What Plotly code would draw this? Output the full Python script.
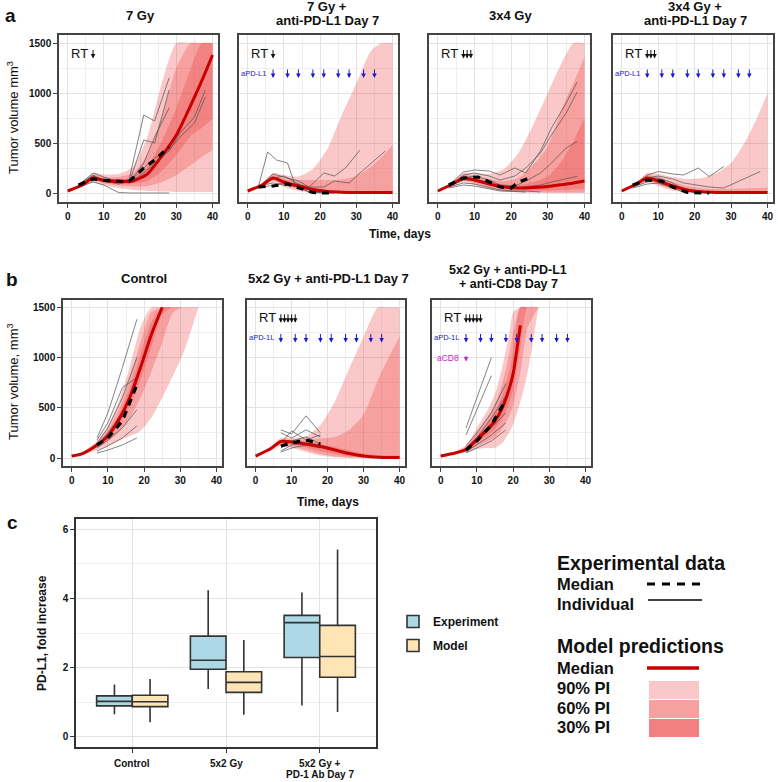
import plotly.graph_objects as go

W, H = 778, 782
FONT = "Liberation Sans, Arial, sans-serif"

# ---------------- data: model prediction bands (days, mm3) ----------------
DAYS = [0, 4, 7, 10, 14, 18, 22, 26, 30, 34, 37, 40]

# a1: 7 Gy
A1_MED = [20, 80, 150, 125, 115, 120, 190, 370, 580, 880, 1120, 1380]
A1_P90_HI = [25, 100, 200, 185, 190, 260, 560, 1100, 1500, 1500, 1500, 1500]
A1_P90_LO = [15, 60, 110, 75, 50, 30, 20, 15, 10, 10, 10, 10]
A1_P60_HI = [23, 90, 180, 160, 160, 200, 380, 760, 1250, 1500, 1500, 1500]
A1_P60_LO = [17, 70, 125, 95, 75, 65, 70, 110, 180, 280, 360, 430]
A1_P30_HI = [21, 85, 165, 140, 135, 150, 260, 520, 850, 1250, 1500, 1500]
A1_P30_LO = [19, 75, 135, 110, 95, 95, 120, 220, 380, 570, 650, 740]

# a2: 7 Gy + anti-PD-L1 Day 7
A2_MED = [20, 80, 150, 110, 70, 35, 15, 8, 5, 5, 5, 5]
A2_P90_HI = [25, 100, 200, 180, 165, 240, 440, 780, 1095, 1420, 1500, 1500]
A2_P90_LO = [15, 60, 110, 60, 20, 5, 0, 0, 0, 0, 0, 0]
A2_P60_HI = [23, 90, 180, 150, 130, 130, 130, 135, 170, 260, 360, 480]
A2_P60_LO = [17, 70, 125, 80, 40, 15, 5, 2, 0, 0, 0, 0]
A2_P30_HI = [21, 85, 165, 130, 95, 55, 30, 20, 15, 15, 15, 15]
A2_P30_LO = [19, 75, 135, 95, 55, 25, 8, 3, 2, 2, 2, 2]

# a3: 3x4 Gy
A3_MED = [20, 90, 150, 130, 90, 60, 50, 55, 65, 85, 100, 120]
A3_P90_HI = [25, 110, 200, 200, 190, 240, 400, 680, 1000, 1320, 1500, 1500]
A3_P90_LO = [15, 65, 110, 80, 40, 15, 5, 2, 0, 0, 0, 0]
A3_P60_HI = [23, 100, 180, 170, 140, 120, 150, 280, 465, 860, 1100, 1360]
A3_P60_LO = [17, 75, 125, 100, 60, 30, 15, 10, 5, 5, 5, 5]
A3_P30_HI = [21, 95, 165, 150, 115, 85, 80, 110, 165, 330, 520, 760]
A3_P30_LO = [19, 85, 135, 115, 75, 45, 30, 25, 25, 30, 35, 40]

# a4: 3x4 Gy + anti-PD-L1 Day 7
A4_MED = [20, 90, 150, 120, 70, 30, 12, 6, 5, 5, 5, 5]
A4_P90_HI = [25, 110, 200, 190, 160, 140, 150, 200, 300, 520, 740, 1000]
A4_P90_LO = [15, 65, 110, 70, 25, 5, 0, 0, 0, 0, 0, 0]
A4_P60_HI = [23, 100, 180, 160, 110, 70, 45, 40, 40, 45, 50, 55]
A4_P60_LO = [17, 75, 125, 85, 40, 12, 3, 1, 0, 0, 0, 0]
A4_P30_HI = [21, 95, 165, 135, 85, 45, 22, 15, 12, 12, 12, 12]
A4_P30_LO = [19, 85, 135, 105, 55, 20, 6, 3, 2, 2, 2, 2]

# b1: Control
B1_DAYS = [0, 3, 7, 10, 13, 16, 19, 22, 25, 28, 31, 35]
B1_MED = [20, 45, 130, 220, 380, 600, 900, 1230, 1500, None, None, None]
B1_P90_HI = [25, 60, 170, 320, 560, 900, 1300, 1500, 1500, 1500, 1500, 1500]
B1_P90_LO = [15, 35, 80, 120, 170, 220, 270, 400, 600, 820, 1060, 1500]
B1_P60_HI = [23, 55, 155, 280, 480, 780, 1150, 1450, 1500, 1500, 1500, 1500]
B1_P60_LO = [17, 38, 100, 165, 260, 400, 600, 860, 1150, 1450, 1500, 1500]
B1_P30_HI = [22, 50, 140, 250, 430, 690, 1030, 1350, 1500, 1500, 1500, 1500]
B1_P30_LO = [18, 40, 115, 195, 330, 520, 780, 1100, 1430, 1500, 1500, 1500]

# b2: 5x2 Gy + anti-PD-L1 Day 7
B2_MED = [20, 90, 165, 160, 140, 115, 80, 45, 20, 8, 5, 5]
B2_P90_HI = [25, 110, 200, 200, 215, 330, 560, 890, 1210, 1500, 1500, 1500]
B2_P90_LO = [15, 65, 120, 100, 60, 25, 8, 2, 0, 0, 0, 0]
B2_P60_HI = [23, 100, 185, 185, 185, 195, 210, 280, 433, 780, 1000, 1210]
B2_P60_LO = [17, 75, 140, 120, 80, 40, 15, 5, 0, 0, 0, 0]
B2_P30_HI = [21, 95, 175, 175, 160, 140, 110, 75, 45, 30, 25, 25]
B2_P30_LO = [19, 85, 155, 145, 105, 70, 40, 15, 5, 2, 2, 2]

# b3: 5x2 Gy + anti-PD-L1 + anti-CD8 Day 7
B3_DAYS = [0, 4, 7, 10, 13, 15, 17, 19, 20, 22, 24, 27]
B3_MED = [20, 50, 85, 185, 290, 370, 500, 700, 840, 1320, None, None]
B3_P90_HI = [25, 65, 130, 300, 480, 640, 900, 1250, 1450, 1500, 1500, 1500]
B3_P90_LO = [15, 35, 55, 90, 100, 100, 150, 260, 335, 560, 850, 1500]
B3_P60_HI = [23, 60, 115, 260, 410, 540, 740, 1050, 1250, 1500, 1500, 1500]
B3_P60_LO = [17, 40, 65, 120, 170, 210, 290, 420, 530, 850, 1300, 1500]
B3_P30_HI = [22, 55, 100, 220, 350, 450, 620, 870, 1050, 1500, 1500, 1500]
B3_P30_LO = [18, 45, 75, 150, 230, 290, 390, 550, 680, 1100, 1500, 1500]

# ---------------- data: experimental medians ----------------
A1_EXP_DAYS = [3, 7, 10, 14, 17, 21, 24, 28]
A1_EXP_MED = [80, 140, 125, 115, 115, 250, 330, 460]
A2_EXP_DAYS = [3, 7, 11, 14, 18, 21, 24]
A2_EXP_MED = [60, 70, 90, 50, 5, 0, 0]
A3_EXP_DAYS = [3, 7, 11, 14, 17, 20, 22, 25]
A3_EXP_MED = [80, 150, 160, 110, 60, 50, 110, 150]
A4_EXP_DAYS = [3, 7, 11, 14, 18, 21, 24]
A4_EXP_MED = [80, 130, 120, 60, 5, 0, 0]
B1_EXP_DAYS = [7, 10, 14, 18]
B1_EXP_MED = [130, 200, 370, 730]
B2_EXP_DAYS = [7, 10, 14, 18]
B2_EXP_MED = [120, 150, 180, 140]
B3_EXP_DAYS = [7, 10, 14, 18]
B3_EXP_MED = [80, 170, 330, 580]

# ---------------- data: individual animals ----------------
A1_IND_DAYS = [[3, 7, 10, 14, 17, 21, 24, 28], [3, 7, 10, 14, 17, 21, 24, 28],
               [3, 7, 10, 14, 17, 21, 24, 28], [3, 7, 10, 14, 17, 21, 24, 28, 31, 35, 38],
               [3, 7, 10, 14, 17, 21, 24, 28, 31, 35, 38], [3, 7, 10, 14, 17, 21, 24, 28]]
A1_IND_VALS = [[80, 200, 160, 110, 140, 780, 720, 1150], [70, 180, 120, 90, 110, 530, 500, 1030],
               [60, 110, 80, 5, 0, 0, 0, 0], [90, 170, 130, 120, 100, 200, 300, 420, 600, 760, 1030],
               [75, 140, 120, 100, 110, 250, 350, 430, 560, 700, 960], [85, 150, 140, 130, 100, 300, 560, 850]]

A2_IND_DAYS = [[3, 5.5, 8, 11, 13, 17, 21, 24, 27, 31], [3, 7, 10, 14, 17, 21, 24, 28, 31, 35, 38],
               [3, 7, 10, 14, 17, 21], [3, 7, 10, 14, 17], [3, 7, 10, 14, 17, 21, 24]]
A2_IND_VALS = [[70, 410, 330, 300, 90, 60, 200, 170, 250, 430], [60, 190, 160, 120, 60, 60, 120, 100, 200, 330, 420],
               [50, 80, 100, 70, 10, 0], [60, 150, 170, 90, 30], [70, 100, 80, 60, 5, 0, 0]]

A3_IND_DAYS = [[3, 7, 10, 14, 17, 21, 24, 28, 31, 35, 38]] * 4 + [[3, 7, 10, 14, 17, 21, 24, 28], [3, 7, 10, 14, 17, 21, 24]]
A3_IND_VALS = [[80, 210, 230, 220, 180, 250, 200, 420, 650, 900, 1110],
               [70, 180, 200, 170, 130, 170, 250, 400, 580, 800, 1010],
               [60, 150, 170, 130, 80, 70, 120, 200, 300, 450, 515],
               [70, 130, 130, 90, 60, 50, 60, 80, 110, 140, 166],
               [60, 100, 90, 60, 30, 20, 20, 10], [50, 80, 70, 40, 20, 15, 10]]

A4_IND_DAYS = [[3, 7, 10, 14, 17, 21, 24, 28], [3, 7, 10, 14, 17, 21, 24, 28, 31, 35, 38],
               [3, 7, 10, 14, 17, 21, 24], [3, 7, 10, 14, 17, 21], [3, 7, 10, 14, 17]]
A4_IND_VALS = [[70, 180, 215, 190, 180, 250, 165, 265], [60, 150, 170, 140, 100, 80, 60, 50, 100, 160, 215],
               [70, 140, 150, 100, 40, 10, 0], [60, 110, 130, 80, 20, 0], [50, 90, 100, 50, 10]]

B1_IND_DAYS = [[7, 10, 14, 18]] * 7
B1_IND_VALS = [[200, 450, 900, 1380], [150, 300, 600, 1000], [130, 250, 450, 750], [100, 180, 300, 480],
               [70, 120, 200, 320], [50, 80, 130, 200], [180, 350, 700, 800]]

B2_IND_DAYS = [[7, 10, 14, 18]] * 6
B2_IND_VALS = [[280, 240, 420, 250], [250, 200, 280, 210], [150, 270, 180, 230], [100, 170, 210, 140],
               [70, 130, 150, 120], [60, 100, 130, 100]]

B3_IND_DAYS = [[7, 10, 14], [7, 10, 14], [7, 10, 14, 18], [7, 10, 14, 18], [7, 10, 14, 18],
               [7, 10, 14, 18], [7, 10, 14, 18]]
B3_IND_VALS = [[300, 600, 1000], [230, 480, 820], [120, 250, 450, 740], [100, 200, 400, 620],
               [80, 170, 300, 450], [60, 130, 230, 350], [50, 100, 170, 280]]

# ---------------- dosing schedules ----------------
RT_1 = [7]
RT_3 = [7, 8, 9]
RT_5 = [7, 8, 9, 10, 11]
PDL1_DAYS = [7, 11, 14, 18, 21, 25, 28, 32, 35]
CD8_DAYS = [7]

# ---------------- panel c: PD-L1 fold increase ----------------
C_CATS = ["Control", "5x2 Gy", "5x2 Gy + PD-1 Ab Day 7"]
C_LABEL_LINES = [["Control"], ["5x2 Gy"], ["5x2 Gy +", "PD-1 Ab Day 7"]]
EXP_Q1 = [0.89, 1.95, 2.29]
EXP_MED = [1.02, 2.21, 3.30]
EXP_Q3 = [1.18, 2.91, 3.51]
EXP_LO = [0.65, 1.38, 0.90]
EXP_HI = [1.51, 4.24, 4.17]
MOD_Q1 = [0.87, 1.28, 1.72]
MOD_MED = [1.01, 1.57, 2.32]
MOD_Q3 = [1.20, 1.88, 3.22]
MOD_LO = [0.42, 0.63, 0.71]
MOD_HI = [1.67, 2.80, 5.42]

# ---------------- layout helpers ----------------
def dx(a, b):
    return [a / W, b / W]

def dy(top, bot):
    return [1 - bot / H, 1 - top / H]

def px(x):
    return x / W

def py(y):
    return 1 - y / H

BAND = "rgba(235,50,50,0.27)"
RED = "#c80000"
GRIDMAJ = "#e3e3e3"
GRIDMIN = "#efefef"

panels = [
    dict(xd=dx(59, 218), yd=dy(35, 202), days=DAYS, med=A1_MED,
         bands=[(A1_P90_LO, A1_P90_HI), (A1_P60_LO, A1_P60_HI), (A1_P30_LO, A1_P30_HI)],
         ed=A1_EXP_DAYS, em=A1_EXP_MED, idays=A1_IND_DAYS, ivals=A1_IND_VALS,
         rt=RT_1, pd=None, cd=None, ylab=True, yr=[-90, 1580]),
    dict(xd=dx(239, 398), yd=dy(35, 202), days=DAYS, med=A2_MED,
         bands=[(A2_P90_LO, A2_P90_HI), (A2_P60_LO, A2_P60_HI), (A2_P30_LO, A2_P30_HI)],
         ed=A2_EXP_DAYS, em=A2_EXP_MED, idays=A2_IND_DAYS, ivals=A2_IND_VALS,
         rt=RT_1, pd="aPD-L1", cd=None, ylab=False, yr=[-90, 1580]),
    dict(xd=dx(429, 590), yd=dy(35, 202), days=DAYS, med=A3_MED,
         bands=[(A3_P90_LO, A3_P90_HI), (A3_P60_LO, A3_P60_HI), (A3_P30_LO, A3_P30_HI)],
         ed=A3_EXP_DAYS, em=A3_EXP_MED, idays=A3_IND_DAYS, ivals=A3_IND_VALS,
         rt=RT_3, pd=None, cd=None, ylab=False, yr=[-90, 1580]),
    dict(xd=dx(613, 773), yd=dy(35, 202), days=DAYS, med=A4_MED,
         bands=[(A4_P90_LO, A4_P90_HI), (A4_P60_LO, A4_P60_HI), (A4_P30_LO, A4_P30_HI)],
         ed=A4_EXP_DAYS, em=A4_EXP_MED, idays=A4_IND_DAYS, ivals=A4_IND_VALS,
         rt=RT_3, pd="aPD-L1", cd=None, ylab=False, yr=[-90, 1580]),
    dict(xd=dx(63, 222), yd=dy(300, 466), days=B1_DAYS, med=B1_MED,
         bands=[(B1_P90_LO, B1_P90_HI), (B1_P60_LO, B1_P60_HI), (B1_P30_LO, B1_P30_HI)],
         ed=B1_EXP_DAYS, em=B1_EXP_MED, idays=B1_IND_DAYS, ivals=B1_IND_VALS,
         rt=None, pd=None, cd=None, ylab=True, yr=[-79, 1572]),
    dict(xd=dx(247, 405), yd=dy(300, 466), days=DAYS, med=B2_MED,
         bands=[(B2_P90_LO, B2_P90_HI), (B2_P60_LO, B2_P60_HI), (B2_P30_LO, B2_P30_HI)],
         ed=B2_EXP_DAYS, em=B2_EXP_MED, idays=B2_IND_DAYS, ivals=B2_IND_VALS,
         rt=RT_5, pd="aPD-1L", cd=None, ylab=False, yr=[-79, 1572]),
    dict(xd=dx(432, 591), yd=dy(300, 466), days=B3_DAYS, med=B3_MED,
         bands=[(B3_P90_LO, B3_P90_HI), (B3_P60_LO, B3_P60_HI), (B3_P30_LO, B3_P30_HI)],
         ed=B3_EXP_DAYS, em=B3_EXP_MED, idays=B3_IND_DAYS, ivals=B3_IND_VALS,
         rt=RT_5, pd="aPD-1L", cd="aCD8", ylab=False, yr=[-79, 1572]),
]

fig = go.Figure()
layout = {}
annotations = []
shapes = []

tickfont = dict(family=FONT, size=10, color="#111", weight="bold")

for i, p in enumerate(panels, start=1):
    xk = "xaxis" if i == 1 else f"xaxis{i}"
    yk = "yaxis" if i == 1 else f"yaxis{i}"
    xr = "x" if i == 1 else f"x{i}"
    yr = "y" if i == 1 else f"y{i}"
    layout[xk] = dict(domain=p["xd"], anchor=yr, range=[-2.4, 41.5], tickvals=[0, 10, 20, 30, 40],
                      showgrid=True, gridcolor=GRIDMAJ, gridwidth=1.2,
                      minor=dict(dtick=5, tick0=0, showgrid=True, gridcolor=GRIDMIN, gridwidth=1),
                      showline=True, mirror=True, linecolor="#444", linewidth=1.5,
                      ticks="outside", ticklen=4, tickcolor="#444", tickfont=tickfont,
                      ticklabeloverflow="allow", zeroline=False, fixedrange=True)
    layout[yk] = dict(domain=p["yd"], anchor=xr, range=p["yr"], tickvals=[0, 500, 1000, 1500],
                      showgrid=True, gridcolor=GRIDMAJ, gridwidth=1.2,
                      minor=dict(dtick=250, tick0=0, showgrid=True, gridcolor=GRIDMIN, gridwidth=1),
                      showline=True, mirror=True, linecolor="#444", linewidth=1.5,
                      ticks="outside" if p["ylab"] else "", ticklen=4, tickcolor="#444",
                      showticklabels=p["ylab"], tickfont=tickfont, zeroline=False, fixedrange=True)

    # prediction bands
    for lo, hi in p["bands"]:
        fig.add_trace(go.Scatter(x=p["days"], y=lo, mode="lines",
                                 line=dict(width=0, shape="spline", smoothing=0.6),
                                 xaxis=xr, yaxis=yr, showlegend=False, hoverinfo="skip"))
        fig.add_trace(go.Scatter(x=p["days"], y=hi, mode="lines", fill="tonexty", fillcolor=BAND,
                                 line=dict(width=0, shape="spline", smoothing=0.6),
                                 xaxis=xr, yaxis=yr, showlegend=False, hoverinfo="skip"))
    # individuals
    for d, v in zip(p["idays"], p["ivals"]):
        fig.add_trace(go.Scatter(x=d, y=v, mode="lines", line=dict(color="#555", width=0.9),
                                 opacity=0.8, xaxis=xr, yaxis=yr, showlegend=False, hoverinfo="skip"))
    # model median
    fig.add_trace(go.Scatter(x=p["days"], y=p["med"], mode="lines",
                             line=dict(color=RED, width=3, shape="spline", smoothing=0.6),
                             xaxis=xr, yaxis=yr, showlegend=False, hoverinfo="skip"))
    # experimental median
    fig.add_trace(go.Scatter(x=p["ed"], y=p["em"], mode="lines",
                             line=dict(color="black", width=3.2, dash="7px,6px"),
                             xaxis=xr, yaxis=yr, showlegend=False, hoverinfo="skip"))

    # dosing annotations
    if p["rt"]:
        annotations.append(dict(xref=xr, yref=yr, x=0.4, y=1395, text="RT", showarrow=False,
                                xanchor="left", yanchor="middle",
                                font=dict(family=FONT, size=13, color="#111")))
        for d in p["rt"]:
            annotations.append(dict(xref=xr, yref=yr, x=d, y=1345, ax=0, ay=-10, text="",
                                    showarrow=True, arrowhead=2, arrowsize=0.9, arrowwidth=1,
                                    arrowcolor="#111"))
    if p["pd"]:
        annotations.append(dict(xref=xr, yref=yr, x=5.6, y=1195, text=p["pd"], showarrow=False,
                                xanchor="right", yanchor="middle",
                                font=dict(family=FONT, size=7.5, color="#1a1acc")))
        for d in PDL1_DAYS:
            annotations.append(dict(xref=xr, yref=yr, x=d, y=1150, ax=0, ay=-10, text="",
                                    showarrow=True, arrowhead=2, arrowsize=0.9, arrowwidth=1,
                                    arrowcolor="#1a1acc"))
    if p["cd"]:
        annotations.append(dict(xref=xr, yref=yr, x=5.6, y=1000, text=p["cd"], showarrow=False,
                                xanchor="right", yanchor="middle",
                                font=dict(family=FONT, size=8.5, color="#cc22cc")))
        for d in CD8_DAYS:
            annotations.append(dict(xref=xr, yref=yr, x=d, y=960, ax=0, ay=-7, text="",
                                    showarrow=True, arrowhead=2, arrowsize=0.9, arrowwidth=1,
                                    arrowcolor="#cc22cc"))

# ---------------- panel c boxplot ----------------
layout["xaxis8"] = dict(domain=dx(76, 376), anchor="y8", type="category", range=[-0.6, 2.6],
                        showgrid=True, gridcolor=GRIDMAJ, gridwidth=1.2,
                        showline=True, mirror=True, linecolor="#333", linewidth=1.5,
                        ticks="outside", ticklen=4, tickcolor="#333", showticklabels=False,
                        fixedrange=True)
layout["yaxis8"] = dict(domain=dy(519, 747), anchor="x8", range=[-0.3, 6.3], tickvals=[0, 2, 4, 6],
                        showgrid=True, gridcolor=GRIDMAJ, gridwidth=1.2,
                        minor=dict(dtick=1, tick0=0, showgrid=True, gridcolor=GRIDMIN, gridwidth=1),
                        showline=True, mirror=True, linecolor="#333", linewidth=1.5,
                        ticks="outside", ticklen=4, tickcolor="#333", zeroline=False,
                        tickfont=dict(family=FONT, size=10, color="#111", weight="bold"),
                        fixedrange=True)

fig.add_trace(go.Box(name="Experiment", x=C_CATS, q1=EXP_Q1, median=EXP_MED, q3=EXP_Q3,
                     lowerfence=EXP_LO, upperfence=EXP_HI, fillcolor="#add8e6",
                     line=dict(color="#333", width=1.6), whiskerwidth=0, legendgroup="e",
                     xaxis="x8", yaxis="y8", hoverinfo="skip"))
fig.add_trace(go.Box(name="Model", x=C_CATS, q1=MOD_Q1, median=MOD_MED, q3=MOD_Q3,
                     lowerfence=MOD_LO, upperfence=MOD_HI, fillcolor="#ffe4b5",
                     line=dict(color="#333", width=1.6), whiskerwidth=0, legendgroup="m",
                     xaxis="x8", yaxis="y8", hoverinfo="skip"))

# category labels of panel c (two-line label kept readable inside the page)
for cat, lines in zip(C_CATS, C_LABEL_LINES):
    for k, line in enumerate(lines):
        annotations.append(dict(xref="x8", yref="paper", x=cat, y=py(763 + 11 * k), text=line,
                                showarrow=False, xanchor="center", yanchor="middle",
                                font=dict(family=FONT, size=10, color="#111", weight="bold")))

# ---------------- text annotations ----------------
def txt(x, y, s, size=13, bold=True, xanchor="center", angle=0, color="#111"):
    annotations.append(dict(xref="paper", yref="paper", x=px(x), y=py(y), text=s, showarrow=False,
                            xanchor=xanchor, yanchor="middle", textangle=angle,
                            font=dict(family=FONT, size=size, color=color,
                                      weight="bold" if bold else "normal")))

txt(10, 15, "a", size=19)
txt(12, 280, "b", size=19)
txt(12, 522, "c", size=19)

txt(140, 15, "7 Gy")
txt(327, 7, "7 Gy +")
txt(327, 21, "anti-PD-L1 Day 7")
txt(510, 15, "3x4 Gy")
txt(695, 7, "3x4 Gy +")
txt(695, 21, "anti-PD-L1 Day 7")
txt(144, 278, "Control")
txt(328, 278, "5x2 Gy + anti-PD-L1 Day 7")
txt(508, 270, "5x2 Gy + anti-PD-L1", size=12.5)
txt(508, 284, "+ anti-CD8 Day 7", size=12.5)

txt(13, 118, "Tumor volume mm<sup>3</sup>", size=13, bold=False, angle=-90)
txt(400, 234, "Time, days", size=12)
txt(13, 382, "Tumor volume, mm<sup>3</sup>", size=13, bold=False, angle=-90)
txt(328, 502, "Time, days", size=12)
txt(42, 633, "PD-L1, fold increase", size=12, angle=-90)

# right-hand legend (drawn)
txt(555, 563, "Experimental data", size=19.5, xanchor="left")
txt(555, 584, "Median", size=16.5, xanchor="left")
txt(555, 604, "Individual", size=16.5, xanchor="left")
txt(555, 646, "Model predictions", size=19.5, xanchor="left")
txt(555, 668, "Median", size=16.5, xanchor="left")
txt(555, 688, "90% PI", size=16.5, xanchor="left")
txt(555, 708, "60% PI", size=16.5, xanchor="left")
txt(555, 727, "30% PI", size=16.5, xanchor="left")

shapes.append(dict(type="line", xref="paper", yref="paper", x0=px(647), x1=px(700), y0=py(584), y1=py(584),
                   line=dict(color="black", width=3, dash="8px,7px")))
shapes.append(dict(type="line", xref="paper", yref="paper", x0=px(648), x1=px(702), y0=py(600), y1=py(600),
                   line=dict(color="black", width=1.3)))
shapes.append(dict(type="line", xref="paper", yref="paper", x0=px(647), x1=px(699), y0=py(668), y1=py(668),
                   line=dict(color=RED, width=3.5)))
for (t, b, c) in [(681, 699, "rgb(250,200,200)"), (700, 718, "rgb(246,160,160)"), (719, 737, "rgb(243,128,128)")]:
    shapes.append(dict(type="rect", xref="paper", yref="paper", x0=px(649), x1=px(699), y0=py(b), y1=py(t),
                       fillcolor=c, line=dict(width=0)))

fig.update_layout(
    width=W, height=H, margin=dict(l=0, r=0, t=0, b=0),
    paper_bgcolor="white", plot_bgcolor="white",
    font=dict(family=FONT, color="#111"),
    boxmode="group", boxgap=0.24, boxgroupgap=0.0,
    showlegend=True,
    legend=dict(x=px(393), y=py(607), xanchor="left", yanchor="top",
                traceorder="grouped", tracegroupgap=5,
                font=dict(family=FONT, size=12, color="#111", weight="bold"),
                bgcolor="rgba(0,0,0,0)", itemwidth=30),
    annotations=annotations, shapes=shapes,
    **layout,
)

fig.write_html("out.html", config={"displayModeBar": False},
               post_script="document.body.style.margin='0';")
